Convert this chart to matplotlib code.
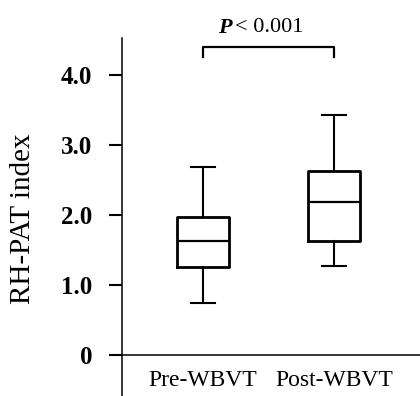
import matplotlib
matplotlib.use("Agg")
import matplotlib.pyplot as plt

plt.rcParams['font.family'] = ['Liberation Serif', 'DejaVu Serif']

# Datos
grupos = ['Pre-WBVT', 'Post-WBVT']
medianas = [1.63, 2.19]
q1 = [1.26, 1.63]
q3 = [1.97, 2.63]
bigote_inf = [0.74, 1.27]
bigote_sup = [2.69, 3.43]
ticks_y = [0, 1, 2, 3, 4]
etiquetas_y = ['0', '1.0', '2.0', '3.0', '4.0']
texto_p = '< 0.001'

stats = []
for i, g in enumerate(grupos):
    stats.append(dict(label=g, med=medianas[i], q1=q1[i], q3=q3[i],
                      whislo=bigote_inf[i], whishi=bigote_sup[i], fliers=[]))

fig = plt.figure(figsize=(4.2, 3.96), dpi=100)
ax = fig.add_axes([122 / 420, 0, 298 / 420, 358 / 396])

pos = [1, 2]
ax.bxp(stats, positions=pos, widths=0.40, capwidths=0.18, showfliers=False,
       boxprops=dict(color='black', linewidth=2.0),
       whiskerprops=dict(color='black', linewidth=1.5),
       capprops=dict(color='black', linewidth=1.5),
       medianprops=dict(color='black', linewidth=1.6))

ax.set_xlim(0.382, 2.656)
ax.set_ylim(-0.586, 4.53)

# Ejes
ax.spines['top'].set_visible(False)
ax.spines['right'].set_visible(False)
ax.spines['bottom'].set_position(('data', 0))
ax.spines['left'].set_linewidth(1.1)
ax.spines['bottom'].set_linewidth(1.1)

ax.set_yticks(ticks_y)
ax.set_yticklabels(etiquetas_y, fontsize=18, fontweight='bold')
ax.tick_params(axis='y', length=9.5, width=1.5, pad=12)
ax.set_xticks(pos)
ax.set_xticklabels(grupos, fontsize=17)
ax.tick_params(axis='x', length=0, pad=11)

ax.set_ylabel('RH-PAT index', fontsize=21)
ax.yaxis.set_label_coords(-0.29, 0.494)

# Corchete de significación
ax.plot([1, 1, 2, 2], [4.26, 4.40, 4.40, 4.26], color='black', linewidth=1.6, clip_on=False)
ax.text(1.22, 4.68, 'P', fontsize=16, fontweight='bold', fontstyle='italic',
        ha='right', va='center', clip_on=False)
ax.text(1.245, 4.68, texto_p, fontsize=16, ha='left', va='center', clip_on=False)

fig.savefig('out.png', dpi=100)
